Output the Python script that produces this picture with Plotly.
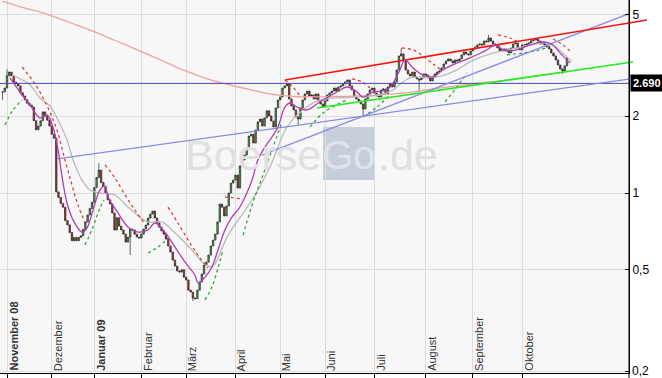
import math
import plotly.graph_objects as go

# ---------------- data (x = trading-day index, 0 = 3 Nov 2008) ----------------
first_index = -2
closes = [
    2.49, 2.58, 2.88, 2.98, 2.88, 2.72, 2.68, 2.63, 2.47, 2.40, 2.32, 2.25,
    2.21, 2.17, 1.92, 1.77, 1.83, 1.92, 2.08, 2.00, 1.93, 1.83,
    1.70, 1.64, 1.01, 0.96, 0.91, 0.88, 0.78, 0.75, 0.70, 0.65,
    0.67, 0.65, 0.67, 0.68, 0.72, 0.77, 0.82, 0.87, 0.92, 1.05,
    1.15, 1.23, 1.10, 1.06, 1.00, 0.94, 0.905, 0.835, 0.716, 0.80,
    0.742, 0.716, 0.69, 0.642, 0.672, 0.722, 0.716, 0.69, 0.672, 0.666,
    0.69, 0.722, 0.749, 0.798, 0.827, 0.85, 0.798, 0.763, 0.735, 0.71,
    0.69, 0.66, 0.62, 0.587, 0.546, 0.517, 0.495, 0.49, 0.50, 0.468,
    0.456, 0.416, 0.409, 0.388, 0.385, 0.416, 0.448, 0.481, 0.522, 0.536,
    0.571, 0.62, 0.654, 0.69, 0.77, 0.905, 0.88, 0.813, 0.89, 1.00,
    1.094, 1.124, 1.176, 1.046, 1.277, 1.347, 1.409, 1.50, 1.673, 1.70,
    1.57, 1.766, 1.90, 1.95, 1.83, 1.97, 2.10, 2.005, 1.916, 1.815,
    2.155, 2.316, 2.38, 2.58, 2.63, 2.676, 2.336, 2.194, 2.116, 1.987,
    1.95, 2.155, 2.316, 2.445, 2.51, 2.40, 2.423, 2.336, 2.445, 2.295,
    2.234, 2.174, 2.295, 2.423, 2.467, 2.51, 2.58, 2.51, 2.605, 2.63,
    2.676, 2.725, 2.775, 2.63, 2.535, 2.38, 2.336, 2.295, 2.234, 2.135,
    2.336, 2.445, 2.535, 2.58, 2.467, 2.40, 2.38, 2.535, 2.558, 2.445,
    2.605, 2.676, 2.605, 2.725, 3.037, 3.446, 3.51, 3.324, 3.037, 2.93,
    2.877, 2.98, 2.85, 2.80, 2.775, 2.826, 2.93, 2.903, 2.826, 2.75,
    2.85, 2.93, 2.98, 3.01, 3.093, 3.206, 3.294, 3.354, 3.294, 3.235,
    3.324, 3.294, 3.354, 3.477, 3.573, 3.51, 3.477, 3.605, 3.671, 3.738,
    3.806, 3.84, 3.806, 3.945, 3.91, 4.054, 3.945, 3.84, 3.806, 3.704,
    3.605, 3.671, 3.605, 3.671, 3.541, 3.704, 3.84, 3.875, 3.704, 3.638,
    3.806, 3.806, 3.84, 3.875, 3.945, 3.981, 4.017, 3.945, 3.84, 3.91,
    3.806, 3.738, 3.671, 3.541, 3.446, 3.324, 3.177, 3.065, 3.01, 3.15, 3.384,
]
# a few visible wick extremes
wick_high = {0: 3.05, 41: 1.31, 176: 3.70, 215: 4.165, 234: 4.02}
wick_low = {-2: 2.32, 55: 0.571, 83: 0.377, 130: 1.848, 159: 1.986, 184: 2.489, 248: 2.93}

month_labels = ["November 08", "Dezember", "Januar 09", "Februar", "März", "April",
                "Mai", "Juni", "Juli", "August", "September", "Oktober"]
month_index = [0, 20, 39, 60, 80, 102, 122, 142, 164, 187, 208, 230]
month_bold = [True, False, True, False, False, False, False, False, False, False, False, False]

# 200-day average (salmon)
ma200_x = [-2, 8, 18, 28, 38, 48, 58, 68, 78, 88, 98, 108, 118, 128, 138, 148, 158,
           168, 178, 188, 198, 208, 218, 228, 238, 248, 250]
ma200_v = [5.64, 5.31, 5.02, 4.66, 4.32, 3.97, 3.65, 3.34, 3.05, 2.83, 2.67, 2.55, 2.44,
           2.39, 2.38, 2.39, 2.40, 2.43, 2.47, 2.54, 2.61, 2.68, 2.74, 2.81, 2.89, 2.97, 3.0]
# medium average (grey)
ma_mid_x = [2.2, 10.3, 14.7, 19.2, 22.3, 26.8, 29.5, 33.5, 37.1, 41.5, 48.2, 54, 62.9, 69.2,
            75, 82.6, 87.1, 91.5, 98.7, 109.4, 117.4, 125, 132.1, 139.7, 154.5, 166.5, 172.3,
            179.9, 192, 200.9, 206.7, 215.6, 230.4, 241.1, 245.5, 252.2]
ma_mid_v = [2.903, 2.652, 2.358, 2.194, 1.968, 1.614, 1.347, 1.124, 1.027, 1.0, 0.982, 0.881,
            0.77, 0.77, 0.697, 0.598, 0.536, 0.513, 0.684, 0.939, 1.265, 1.815, 2.116, 2.316,
            2.377, 2.423, 2.535, 2.825, 2.85, 3.037, 3.265, 3.509, 3.737, 3.875, 3.704, 3.265]
# short average (magenta)
ma_short_x = [1.3, 5.8, 10.3, 14.7, 17.9, 20.5, 22.8, 24.6, 26.8, 29.5, 33.5, 35.7, 38.4, 41.5,
              43.8, 45.1, 49.6, 54, 58.5, 62.9, 66.1, 70.5, 75, 79.5, 83.9, 85.3, 88.4, 91.5,
              94.2, 97.3, 100.4, 103.1, 106.3, 109.4, 112, 115.2, 118.3, 121, 124.1, 126.3,
              129.5, 133.9, 139.7, 147.3, 151.8, 156.3, 158.9, 163.4, 169.6, 173.2, 175.4,
              177.7, 181.3, 185.7, 190.2, 194.6, 200.9, 206.7, 212.5, 218.8, 221.4, 227.7,
              233.5, 239.3, 243.8, 246.9, 251.3]
ma_short_v = [2.825, 2.489, 2.214, 1.968, 2.023, 1.815, 1.475, 1.155, 0.914, 0.784, 0.703,
              0.729, 0.858, 1.027, 1.065, 0.965, 0.835, 0.736, 0.703, 0.716, 0.763, 0.703,
              0.614, 0.536, 0.477, 0.444, 0.468, 0.513, 0.598, 0.716, 0.805, 0.858, 0.965,
              1.124, 1.347, 1.515, 1.658, 1.815, 2.174, 2.254, 2.174, 2.116, 2.275, 2.489,
              2.604, 2.489, 2.377, 2.489, 2.535, 2.775, 3.037, 3.324, 3.092, 2.903, 2.85,
              3.037, 3.235, 3.384, 3.573, 3.806, 3.638, 3.638, 3.806, 3.909, 3.806, 3.541, 3.235]

# dotted trailing stops: red (above price) and green (below price)
red_stops = [
    ([6.7, 12.5, 17.9, 22.3, 25.9, 29, 31.7, 34.8], [3.12, 2.676, 2.194, 1.766, 1.347, 1.075, 0.897, 0.77]),
    ([43.75, 48.2, 52.7, 57.1, 61.6], [1.288, 1.145, 0.982, 0.858, 0.756]),
    ([71.9, 76.3, 81.7, 86.2, 89.7], [0.881, 0.763, 0.637, 0.556, 0.508]),
    ([97.3, 105.4], [0.965, 0.947]),
    ([124.1, 127.7, 130.8], [2.775, 2.604, 2.40]),
    ([154, 158.5, 162], [2.80, 2.725, 2.58]),
    ([176.3, 181.3, 185.7, 190.2, 193.3], [3.704, 3.638, 3.445, 3.206, 3.065]),
    ([219.2, 224.6, 228.1], [4.165, 4.054, 3.909]),
    ([243.75, 248.2, 252.2], [4.017, 3.806, 3.541]),
]
green_stops = [
    ([-0.9, 2.7, 6.7], [1.848, 2.116, 2.316]),
    ([34.8, 38.4, 41.5, 43.3], [0.625, 0.736, 0.873, 0.939]),
    ([62.9, 67.4, 71.9], [0.582, 0.614, 0.666]),
    ([88.4, 91.5, 94.2, 96.4], [0.381, 0.428, 0.508, 0.598]),
    ([105.4, 109.4, 113.8, 118.3, 122.8], [0.684, 0.897, 1.145, 1.475, 1.898]),
    ([135.3, 141.1, 148.7, 151.8], [1.815, 2.059, 2.254, 2.316]),
    ([158.9, 165.2, 171], [1.986, 2.174, 2.423]),
    ([195.5, 200.9, 205.4], [2.275, 2.604, 2.957]),
    ([223.2, 230.4, 237.9, 243.75], [3.477, 3.541, 3.638, 3.806]),
]

# drawn trend lines (start/end index, start/end value)
trend_red = ([124.1, 285.7], [2.775, 4.77])
trend_green = ([138.4, 279.5], [2.154, 3.265])
trend_blue1 = ([22.3, 278.1], [1.36, 2.80])
trend_blue2 = ([113.8, 277.2], [1.409, 5.03])
level = 2.690
level_label = "2.690"

y_ticks = [5, 2, 1, 0.5, 0.2]
y_ticktext = ["5", "2", "1", "0,5", "0,2"]

# ---------------- build ----------------
X_RANGE = [-3.125, 277.7]
Y_RANGE = [-0.7055, 0.7566]

idx = list(range(first_index, first_index + len(closes)))
opens = [closes[0]] + closes[:-1]
highs = [max(o, c) for o, c in zip(opens, closes)]
lows = [min(o, c) for o, c in zip(opens, closes)]
for k, v in wick_high.items():
    highs[k - first_index] = max(highs[k - first_index], v)
for k, v in wick_low.items():
    lows[k - first_index] = min(lows[k - first_index], v)

FONT = "Liberation Sans, Arial, sans-serif"
fig = go.Figure()

fig.add_trace(go.Scatter(x=ma200_x, y=ma200_v, mode="lines", line=dict(color="#f2a0a0", width=1.3, shape="spline")))
fig.add_trace(go.Scatter(x=ma_mid_x, y=ma_mid_v, mode="lines", line=dict(color="#bababa", width=1.3, shape="spline")))
for xs, vs in red_stops:
    fig.add_trace(go.Scatter(x=xs, y=vs, mode="lines", line=dict(color="#e03030", width=1.2, dash="dot", shape="spline")))
for xs, vs in green_stops:
    fig.add_trace(go.Scatter(x=xs, y=vs, mode="lines", line=dict(color="#2e9a2e", width=1.2, dash="dot", shape="spline")))

fig.add_trace(go.Scatter(x=[-5, 290], y=[level, level], mode="lines", line=dict(color="#4646b4", width=1)))
trend_styles = [(trend_blue1, "#8a8ae6", 1.3), (trend_blue2, "#8a8ae6", 1.3),
                (trend_red, "#ff1010", 1.5), (trend_green, "#22ee22", 1.6)]
for (xs, vs), col, w in trend_styles:
    fig.add_trace(go.Scatter(x=xs, y=vs, mode="lines", line=dict(color=col, width=w)))


def to_paper(i, v):
    return ((i - X_RANGE[0]) / (X_RANGE[1] - X_RANGE[0]),
            (math.log10(v) - Y_RANGE[0]) / (Y_RANGE[1] - Y_RANGE[0]))


# part of the trend lines that runs past the price axis (not clipped)
for (xs, vs), col, w in trend_styles:
    if xs[1] > X_RANGE[1]:
        t = (X_RANGE[1] - xs[0]) / (xs[1] - xs[0])
        v_axis = 10 ** (math.log10(vs[0]) + t * (math.log10(vs[1]) - math.log10(vs[0])))
        px0, py0 = to_paper(X_RANGE[1], v_axis)
        px1, py1 = to_paper(xs[1], vs[1])
        fig.add_shape(type="line", xref="paper", yref="paper", x0=px0, y0=py0, x1=px1, y1=py1,
                      line=dict(color=col, width=w))

fig.add_trace(go.Candlestick(
    x=idx, open=opens, high=highs, low=lows, close=closes,
    increasing=dict(fillcolor="#3fb53f", line=dict(color="#222222", width=0.7)),
    decreasing=dict(fillcolor="#c83030", line=dict(color="#222222", width=0.7)),
    whiskerwidth=0,
))

fig.add_trace(go.Scatter(x=ma_short_x, y=ma_short_v, mode="lines", line=dict(color="#b43cb4", width=1.3, shape="spline")))

# month labels written vertically inside the plot
for lab, mi, b in zip(month_labels, month_index, month_bold):
    fig.add_annotation(x=mi, xref="x", y=0, yref="paper", text=("<b>%s</b>" % lab) if b else lab,
                       textangle=-90, showarrow=False, xanchor="left", yanchor="bottom", xshift=-2,
                       font=dict(family=FONT, size=11, color="#333333"))

# level label (log axis: annotation y is given in log10 units)
fig.add_annotation(x=1, xref="paper", y=math.log10(level), yref="y", yanchor="middle", xanchor="left",
                   xshift=1, text="<b>%s</b>" % level_label, showarrow=False, bgcolor="#000000",
                   font=dict(family=FONT, size=11, color="#ffffff"), borderpad=2)

# bottom tick label of the right axis (plotly drops it at the very edge)
fig.add_annotation(x=1, xref="paper", y=math.log10(y_ticks[-1]), yref="y", yanchor="middle", xanchor="left",
                   xshift=2, text=y_ticktext[-1], showarrow=False, borderpad=0,
                   font=dict(family=FONT, size=12, color="#000000"))

# watermark
fig.add_shape(type="rect", xref="paper", yref="paper", x0=323 / 629, x1=375 / 629, y0=1 - 180 / 373, y1=1 - 127 / 373,
              fillcolor="#c6ced9", line=dict(width=0), layer="below")
fig.add_annotation(x=322 / 629, y=0.585, xref="paper", yref="paper", text="Boerse", showarrow=False,
                   xanchor="right", yanchor="middle", borderpad=0,
                   font=dict(family=FONT, size=43, color="#e0e0e0"))
fig.add_annotation(x=349 / 629, y=0.585, xref="paper", yref="paper", text="Go", showarrow=False,
                   xanchor="center", yanchor="middle", borderpad=0,
                   font=dict(family=FONT, size=40, color="#dfe4ea"))
fig.add_annotation(x=377 / 629, y=0.585, xref="paper", yref="paper", text=".de", showarrow=False,
                   xanchor="left", yanchor="middle", borderpad=0,
                   font=dict(family=FONT, size=43, color="#e0e0e0"))

# right axis line reaching image bottom
fig.add_shape(type="line", xref="paper", yref="paper", x0=1, x1=1, y0=-0.02, y1=1,
              line=dict(color="#000000", width=1))

fig.update_layout(
    width=662, height=378,
    margin=dict(l=0, r=33, t=0, b=5),
    paper_bgcolor="#ffffff", plot_bgcolor="#f7f7f7",
    showlegend=False, boxgap=0.1, hovermode=False,
    font=dict(family=FONT, size=12, color="#000000"),
    xaxis=dict(range=X_RANGE, rangeslider=dict(visible=False), tickmode="array",
               tickvals=month_index, showticklabels=False, ticks="outside", ticklen=4,
               tickcolor="#000000", showgrid=True, gridcolor="#dcdcdc", gridwidth=1,
               showline=True, linecolor="#000000", linewidth=1, zeroline=False,
               automargin=False),
    yaxis=dict(type="log", range=Y_RANGE, side="right", tickmode="array",
               tickvals=y_ticks, ticktext=y_ticktext[:-1] + [""], ticks="inside", ticklen=4,
               tickcolor="#000000", showgrid=True, gridcolor="#dcdcdc", gridwidth=1, showline=True,
               linecolor="#000000", linewidth=1, zeroline=False, automargin=False,
               tickfont=dict(family=FONT, size=12, color="#000000")),
)

fig.write_html("out.html", config={"displayModeBar": False},
               post_script="document.body.style.margin='0px';document.body.style.overflow='hidden';")
